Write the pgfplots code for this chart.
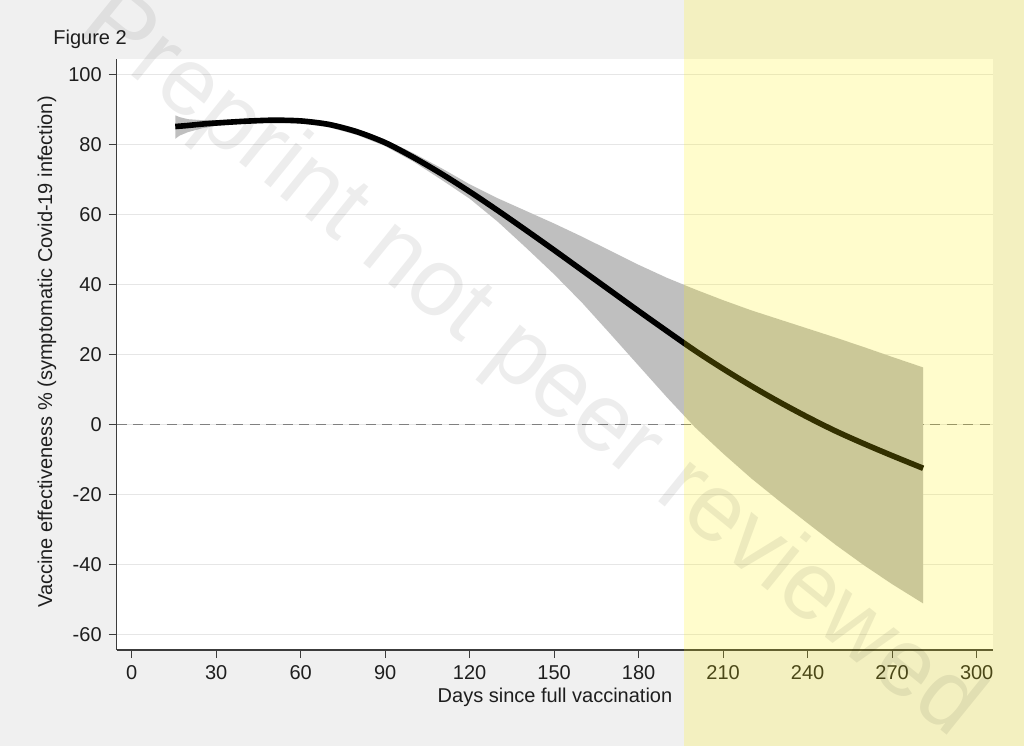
\documentclass[border=0pt]{standalone}
\usepackage{fontspec}
\setmainfont{Liberation Sans}
\usepackage{pgfplots}
\usepackage{pgfplotstable}
\pgfplotsset{compat=1.18}
\definecolor{bggray}{RGB}{240,240,240}
\definecolor{bandgray}{RGB}{191,191,191}
\definecolor{gridgray}{RGB}{230,230,230}
\definecolor{axiscol}{RGB}{60,60,60}
\definecolor{textcol}{RGB}{30,30,30}
\definecolor{dashgray}{RGB}{128,128,128}
\definecolor{yellowov}{RGB}{255,240,0}

% fitted estimate
\pgfplotstableread{
d    est
15.5 85.1
17   85.2
20   85.4
25   85.8
30   86.1
40   86.6
50   86.9
60   86.7
70   85.7
80   83.6
90   80.5
100  76.3
110  71.6
120  66.5
130  61.1
140  55.5
150  49.8
160  44.0
170  38.2
180  32.4
190  26.7
200  21.1
210  15.9
220  11.0
230   6.4
240   2.1
250  -1.9
260  -5.5
270  -8.9
281 -12.5
}\estdata

% 95% confidence band: upper limit forward, lower limit backward
\pgfplotstableread{
d    v
15.5 88.3
17   87.8
20   87.2
25   86.9
30   86.9
40   87.3
50   87.6
60   87.4
70   86.5
80   84.5
90   81.4
100  77.5
110  73.2
120  68.6
130  64.6
140  61.0
150  57.4
160  53.6
170  49.6
180  45.6
190  41.9
200  38.6
210  35.5
220  32.6
230  30.0
240  27.4
250  24.8
260  22.1
270  19.3
281  16.3
281 -51.1
270 -45.6
260 -40.2
250 -34.4
240 -28.2
230 -21.9
220 -15.4
210  -8.3
200  -0.8
190   7.8
180  16.8
170  25.8
160  34.7
150  42.9
140  50.5
130  57.9
120  64.5
110  69.9
100  75.1
90   79.5
80   82.7
70   84.9
60   86.0
50   86.2
40   85.9
30   85.3
25   84.6
20   83.5
17   82.5
15.5 81.6
}\banddata

\begin{document}
\fontsize{10}{12}\selectfont
\begin{tikzpicture}
\fill[bggray] (0,0) rectangle (512pt,373pt);
\begin{axis}[
  at={(58.35pt,48pt)}, anchor=south west,
  width=438.3pt, height=295.35pt, scale only axis,
  xmin=-5.3, xmax=305.9, ymin=-64.4, ymax=104.3,
  axis x line*=bottom, axis y line*=left,
  axis line style={draw=axiscol, line width=0.6pt},
  axis background/.style={fill=white},
  xtick={0,30,...,300}, ytick={-60,-40,...,100},
  tick align=outside, major tick length=4pt,
  tick style={draw=axiscol, line width=0.6pt},
  ymajorgrids, grid style={draw=gridgray, line width=0.5pt},
  ticklabel style={font=\fontsize{10}{12}\selectfont, text=textcol},
  /pgf/number format/assume math mode=true,
  xlabel={Days since full vaccination},
  ylabel={Vaccine effectiveness \% (symptomatic Covid-19 infection)},
  xlabel style={at={(rel axis cs:0.5,-0.0796)}, anchor=center, text=textcol, font=\fontsize{10}{12}\selectfont},
  ylabel style={at={(rel axis cs:-0.0795,0.5045)}, anchor=center, text=textcol, font=\fontsize{10}{12}\selectfont},
]
\addplot[dashgray, dash pattern=on 5pt off 3.3pt, line width=0.6pt] coordinates {(-5.3,0) (305.9,0)};
\addplot[fill=bandgray, draw=none] table[x=d, y=v] {\banddata};
\addplot[black, line width=2.8pt, smooth] table[x=d, y=est] {\estdata};
\end{axis}
\node[anchor=west, text=textcol, inner sep=0] at (26.5pt,353.5pt) {Figure 2};
\fill[yellowov, fill opacity=0.2] (342pt,0) rectangle (512pt,373pt);
\begin{scope}[overlay]
\clip (0,0) rectangle (512pt,373pt);
\node[rotate=-39, text=black, text opacity=0.07, font=\fontsize{48}{50}\selectfont, inner sep=0] at (265pt,190pt) {Preprint not peer reviewed};
\end{scope}
\end{tikzpicture}
\end{document}
